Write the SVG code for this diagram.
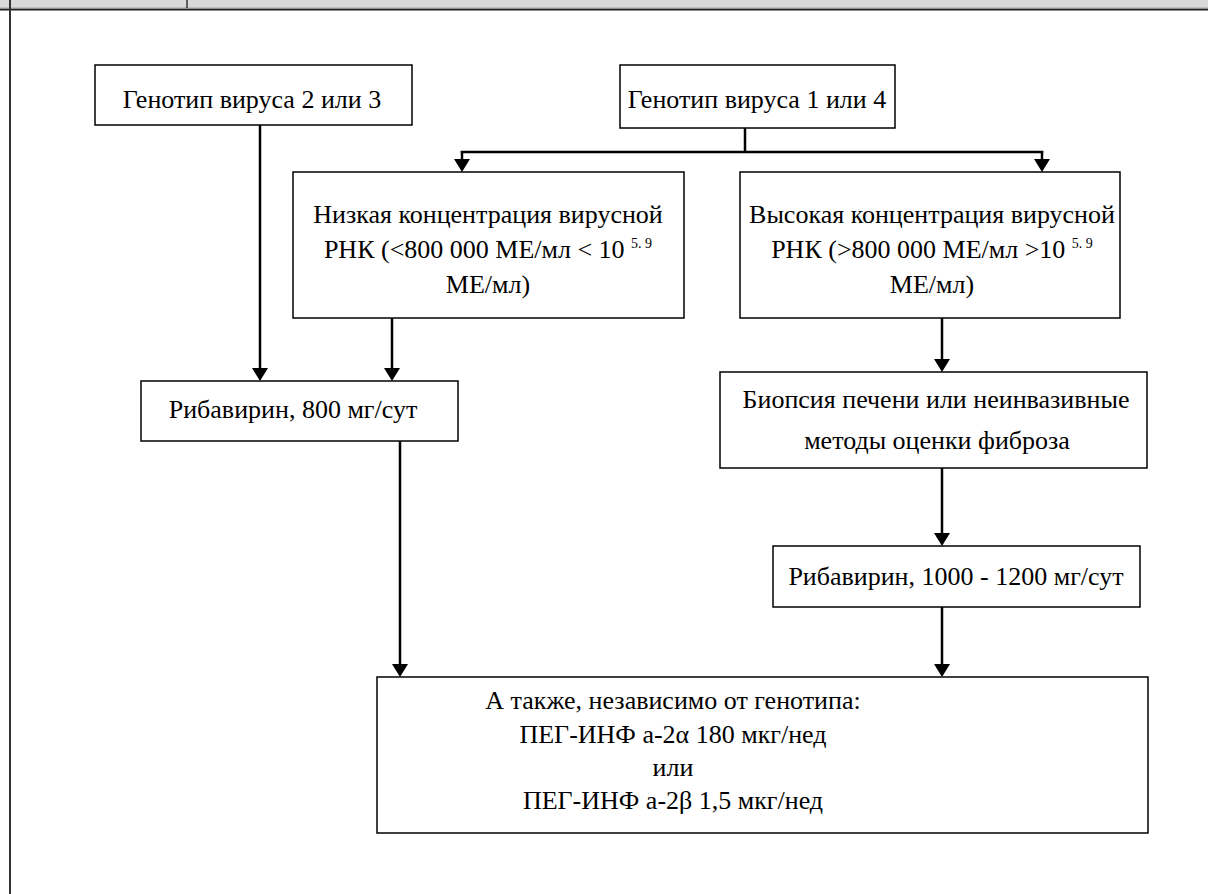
<svg xmlns="http://www.w3.org/2000/svg" width="1208" height="894" viewBox="0 0 1208 894">
<style>
.box{fill:#fff;stroke:#000;stroke-width:1.5}
text{font-family:'Liberation Serif','Times New Roman','DejaVu Serif',serif;font-size:26px;fill:#000;text-anchor:middle}
.sup{font-size:14px}
.c{fill:none;stroke:#000;stroke-width:2.5}
</style>
<defs>
<marker id="ah" viewBox="0 0 13 16" refX="10" refY="8" markerWidth="13" markerHeight="16" markerUnits="userSpaceOnUse" orient="auto">
<path d="M0,0 L13,8 L0,16 Z" fill="#000"/>
</marker>
</defs>
<rect x="0" y="0" width="1208" height="894" fill="#fff"/>
<g id="frame">
<rect x="0" y="0" width="1208" height="7" fill="#d9d9d9"/>
<line x1="0" y1="7.5" x2="1208" y2="7.5" stroke="#bdbdbd" stroke-width="1"/>
<line x1="0" y1="9.5" x2="1208" y2="9.5" stroke="#222" stroke-width="2"/>
<line x1="10" y1="0" x2="10" y2="894" stroke="#333" stroke-width="2"/>
<line x1="187" y1="0" x2="187" y2="8" stroke="#333" stroke-width="1.5"/>
</g>
<g id="connectors">
<line class="c" x1="260" y1="125" x2="260" y2="378" marker-end="url(#ah)"/>
<polyline class="c" points="745,128 745,152"/>
<polyline class="c" points="460.75,152 1043.25,152"/>
<line class="c" x1="462" y1="151" x2="462" y2="169" marker-end="url(#ah)"/>
<line class="c" x1="1042" y1="151" x2="1042" y2="169" marker-end="url(#ah)"/>
<line class="c" x1="392" y1="318" x2="392" y2="378" marker-end="url(#ah)"/>
<line class="c" x1="942" y1="318" x2="942" y2="369" marker-end="url(#ah)"/>
<line class="c" x1="400" y1="441" x2="400" y2="674" marker-end="url(#ah)"/>
<line class="c" x1="942" y1="468" x2="942" y2="543" marker-end="url(#ah)"/>
<line class="c" x1="942" y1="607" x2="942" y2="674" marker-end="url(#ah)"/>
</g>
<g id="genotype23">
<rect class="box" x="95" y="65" width="317" height="60"/>
<text x="252" y="108">Генотип вируса 2 или 3</text>
</g>
<g id="genotype14">
<rect class="box" x="620" y="65" width="275" height="63"/>
<text x="757" y="108">Генотип вируса 1 или 4</text>
</g>
<g id="low">
<rect class="box" x="293" y="172" width="391" height="146"/>
<text x="488" y="223">Низкая концентрация вирусной</text>
<text x="488" y="258">РНК (&lt;800 000 МЕ/мл &lt; 10 <tspan class="sup" dy="-10">5. 9</tspan></text>
<text x="488" y="293">МЕ/мл)</text>
</g>
<g id="high">
<rect class="box" x="740" y="172" width="380" height="146"/>
<text x="932" y="223">Высокая концентрация вирусной</text>
<text x="932" y="258">РНК (&gt;800 000 МЕ/мл &gt;10 <tspan class="sup" dy="-10">5. 9</tspan></text>
<text x="932" y="293">МЕ/мл)</text>
</g>
<g id="riba800">
<rect class="box" x="141" y="381" width="317" height="60"/>
<text x="293" y="418">Рибавирин, 800 мг/сут</text>
</g>
<g id="biopsy">
<rect class="box" x="720" y="372" width="427" height="96"/>
<text x="936" y="408">Биопсия печени или неинвазивные</text>
<text x="937" y="449">методы оценки фиброза</text>
</g>
<g id="riba1000">
<rect class="box" x="773" y="546" width="367" height="61"/>
<text x="956" y="585">Рибавирин, 1000 - 1200 мг/сут</text>
</g>
<g id="peg">
<rect class="box" x="377" y="677" width="771" height="156"/>
<text x="673" y="709" font-size="26.5">А также, независимо от генотипа:</text>
<text x="673" y="743" font-size="26.5">ПЕГ-ИНФ а-2α 180 мкг/нед</text>
<text x="673" y="776" font-size="26.5">или</text>
<text x="673" y="809" font-size="26.5">ПЕГ-ИНФ а-2β 1,5 мкг/нед</text>
</g>
</svg>
